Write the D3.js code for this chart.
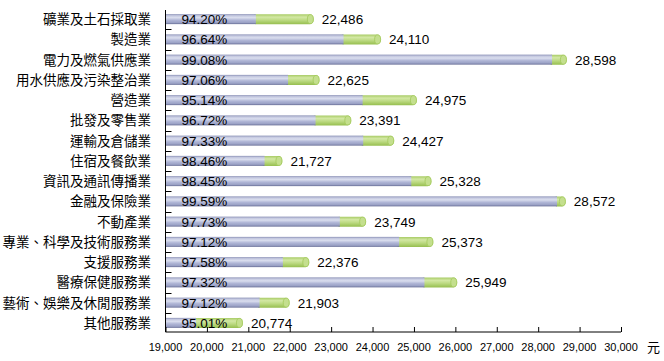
<!DOCTYPE html>
<html>
<head>
<meta charset="utf-8">
<script src="https://cdn.jsdelivr.net/npm/d3@7"></script>
<style>
  body { margin: 0; background: #fff; }
  text { font-family: "Liberation Sans", Arial, "Noto Sans CJK TC", sans-serif; fill: #000; }
</style>
</head>
<body>
<script>
var industries = ["礦業及土石採取業", "製造業", "電力及燃氣供應業", "用水供應及污染整治業", "營造業",
    "批發及零售業", "運輸及倉儲業", "住宿及餐飲業", "資訊及通訊傳播業", "金融及保險業", "不動產業",
    "專業、科學及技術服務業", "支援服務業", "醫療保健服務業", "藝術、娛樂及休閒服務業", "其他服務業"];
var wages = [22486, 24110, 28598, 22625, 24975, 23391, 24427, 21727, 25328, 28572, 23749, 25373, 22376, 25949, 21903, 20774];
var shares = [94.20, 96.64, 99.08, 97.06, 95.14, 96.72, 97.33, 98.46, 98.45, 99.59, 97.73, 97.12, 97.58, 97.32, 97.12, 95.01];
var xTicks = [19000, 20000, 21000, 22000, 23000, 24000, 25000, 26000, 27000, 28000, 29000, 30000];

var width = 664, height = 361;
var plotLeft = 165.5, plotRight = 621, plotTop = 9, plotBottom = 333, axisY = 332;
var cap = 4; // rounded end drawn a bit past the value

var svg = d3.select("body").append("svg")
    .attr("width", width)
    .attr("height", height);

var defs = svg.append("defs");
var blue = defs.append("linearGradient").attr("id", "blue")
    .attr("x1", 0).attr("y1", 0).attr("x2", 0).attr("y2", 1);
[[0, "#8b91b6"], [0.15, "#c3c7df"], [0.35, "#dadeee"], [0.6, "#b0b6d6"], [0.85, "#9aa1c5"], [1, "#676d95"]]
    .forEach(function(s) { blue.append("stop").attr("offset", s[0]).attr("stop-color", s[1]); });
var green = defs.append("linearGradient").attr("id", "green")
    .attr("x1", 0).attr("y1", 0).attr("x2", 0).attr("y2", 1);
[[0, "#a6ca62"], [0.3, "#d3e8a4"], [0.6, "#bcda82"], [1, "#97bf50"]]
    .forEach(function(s) { green.append("stop").attr("offset", s[0]).attr("stop-color", s[1]); });

var x = d3.scaleLinear().domain([19000, 30000]).range([plotLeft, plotRight]);
var y = d3.scaleBand().domain(industries).range([plotTop, plotBottom]);
var barH = 10;

var rows = svg.selectAll(".row")
    .data(industries)
    .enter().append("g")
    .attr("class", "row")
    .attr("transform", function(d) { return "translate(0," + (y(d) + y.bandwidth() / 2) + ")"; });

// green part (rest of the wage), rounded at the end
rows.append("rect")
    .attr("x", function(d, i) { return x(wages[i] * shares[i] / 100) - 4; })
    .attr("y", -barH / 2)
    .attr("width", function(d, i) { return x(wages[i]) + cap - x(wages[i] * shares[i] / 100) + 4; })
    .attr("height", barH)
    .attr("rx", 4).attr("ry", 5)
    .attr("fill", "url(#green)");

// blue part
rows.append("rect")
    .attr("x", x(19000))
    .attr("y", -barH / 2)
    .attr("width", function(d, i) { return x(wages[i] * shares[i] / 100) - x(19000); })
    .attr("height", barH)
    .attr("fill", "url(#blue)");

// end cap
rows.append("ellipse")
    .attr("cx", function(d, i) { return x(wages[i]) + cap - 3.5; })
    .attr("rx", 3)
    .attr("ry", 4.5)
    .attr("fill", "#c4df8e")
    .attr("stroke", "#a2c95a")
    .attr("stroke-width", 0.8);

rows.append("text")
    .attr("x", 181.5)
    .attr("dy", "0.36em")
    .style("font-size", "13.5px")
    .text(function(d, i) { return shares[i].toFixed(2) + "%"; });

rows.append("text")
    .attr("x", function(d, i) { return x(wages[i]) + 12; })
    .attr("dy", "0.36em")
    .style("font-size", "13.5px")
    .text(function(d, i) { return d3.format(",")(wages[i]); });

rows.append("text")
    .attr("x", 151)
    .attr("dy", "0.36em")
    .attr("text-anchor", "end")
    .style("font-family", "'Noto Sans CJK TC', sans-serif")
    .style("font-size", "13.5px")
    .text(function(d) { return d; });

// y axis line and ticks between bands
svg.append("line")
    .attr("x1", plotLeft).attr("x2", plotLeft)
    .attr("y1", 10).attr("y2", axisY)
    .attr("stroke", "#000");
svg.selectAll(".ytick")
    .data(industries.slice(1))
    .enter().append("line")
    .attr("x1", plotLeft).attr("x2", plotLeft + 6)
    .attr("y1", function(d) { return Math.round(y(d)) + 0.5; })
    .attr("y2", function(d) { return Math.round(y(d)) + 0.5; })
    .attr("stroke", "#000");

// x axis with upward ticks
var xAxis = svg.append("g")
    .attr("transform", "translate(0," + axisY + ")")
    .call(d3.axisTop(x).tickValues(xTicks).tickSize(5).tickFormat(""));
xAxis.select(".domain").attr("d", "M" + plotLeft + ",0H" + plotRight);
xAxis.selectAll("line").attr("stroke", "#000");

svg.selectAll(".xlabel")
    .data(xTicks)
    .enter().append("text")
    .attr("x", function(d) { return x(d); })
    .attr("y", 351)
    .attr("text-anchor", "middle")
    .style("font-size", "11px")
    .text(d3.format(","));

svg.append("text")
    .attr("x", 647)
    .attr("y", 352)
    .style("font-family", "'Noto Sans CJK TC', sans-serif")
    .style("font-size", "13px")
    .text("元");
</script>
</body>
</html>
